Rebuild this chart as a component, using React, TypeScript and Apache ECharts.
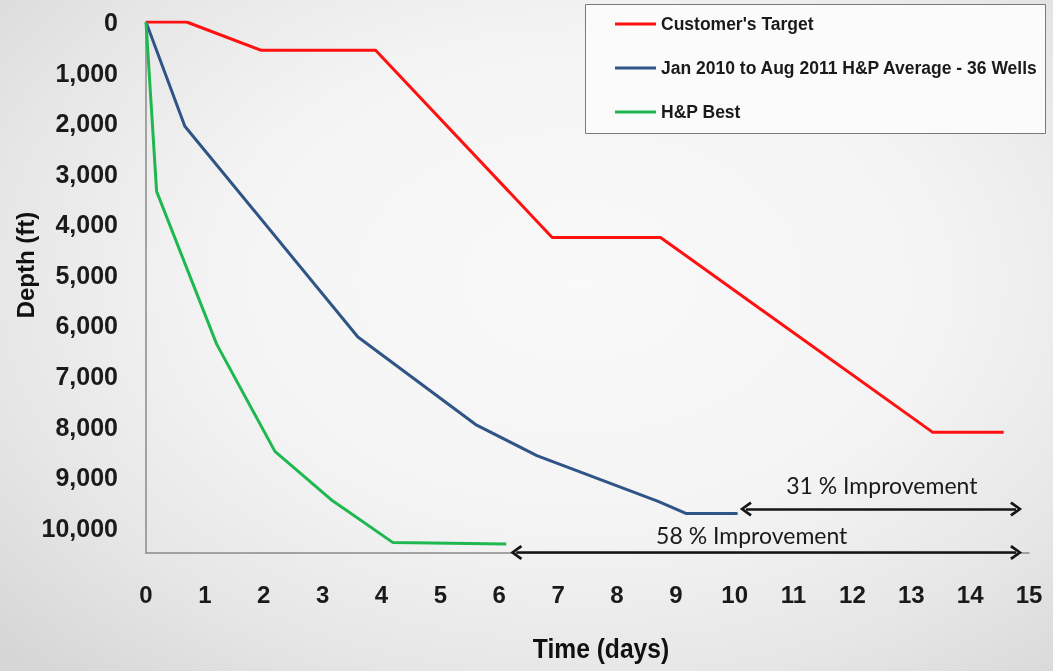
import React, { useEffect, useRef } from "react";
import * as echarts from "echarts";

// ---- data (days, depth in ft) ----
const seriesNames = [
  "Customer's Target",
  "Jan 2010 to Aug 2011 H&P Average - 36 Wells",
  "H&P Best",
];
const seriesColors = ["#ff1111", "#2f5486", "#1fb850"];

const targetDays = [0, 0.69, 1.96, 3.9, 6.9, 8.74, 13.36, 14.57];
const targetDepth = [0, 0, 560, 560, 4260, 4260, 8110, 8110];

const averageDays = [0, 0.66, 3.6, 5.6, 6.64, 8.7, 9.18, 10.05];
const averageDepth = [0, 2060, 6230, 7960, 8575, 9480, 9720, 9720];

const bestDays = [0, 0.18, 1.2, 2.19, 3.15, 4.19, 6.12];
const bestDepth = [0, 3350, 6370, 8490, 9450, 10290, 10320];

// ---- annotations ----
const improvementLabels = ["31 % Improvement", "58 % Improvement"];
const arrowStartDays = [10.19, 6.29];
const arrowEndDays = [14.78, 14.78];
const arrowDepths = [9630, 10490];
const labelDays = [12.5, 10.29];
const labelDepths = [9155, 10144];

const xMin = 0;
const xMax = 15;
const xInterval = 1;
const yMin = 0;
const yMax = 10500;
const yInterval = 1000;

const xAxisTitle = "Time (days)";
const yAxisTitle = "Depth (ft)";

const pairs = (xs: number[], ys: number[]) => xs.map((x, i) => [x, ys[i]]);

const chevron = "path://M0,12 L10,0 L20,12 L17,14 L10,5 L3,14 Z";

export default function App() {
  const ref = useRef<HTMLDivElement>(null);

  useEffect(() => {
    const chart = echarts.init(ref.current!, null, { renderer: "svg" });
    const lineSeries = (name: string, color: string, data: number[][]) => ({
      name,
      type: "line",
      data,
      showSymbol: false,
      symbol: "none",
      color,
      lineStyle: { color, width: 3 },
      z: 3,
    });

    const s0 = lineSeries(seriesNames[0], seriesColors[0], pairs(targetDays, targetDepth));
    const s1: any = lineSeries(seriesNames[1], seriesColors[1], pairs(averageDays, averageDepth));
    const s2 = lineSeries(seriesNames[2], seriesColors[2], pairs(bestDays, bestDepth));

    s1.markLine = {
      silent: true,
      symbol: [chevron, chevron],
      symbolSize: [15, 12],
      lineStyle: { color: "#151515", width: 2.5, type: "solid" },
      label: { show: false },
      emphasis: { disabled: true },
      data: arrowDepths.map((d, i) => [
        { coord: [arrowStartDays[i], d] },
        { coord: [arrowEndDays[i], d] },
      ]),
    };
    s1.markPoint = {
      silent: true,
      symbol: "circle",
      symbolSize: 0,
      itemStyle: { color: "transparent" },
      label: {
        show: true,
        position: "inside",
        color: "#1a1a1a",
        fontFamily: "Lato, 'Open Sans', sans-serif",
        fontSize: 23,
      },
      data: improvementLabels.map((t, i) => ({
        coord: [labelDays[i], labelDepths[i]],
        value: t,
        label: { formatter: t },
      })),
    };

    chart.setOption({
      animation: false,
      backgroundColor: "transparent",
      textStyle: { fontFamily: "'Liberation Sans', Arial, sans-serif" },
      graphic: [
        {
          type: "rect",
          shape: { x: 585.5, y: 4.5, width: 460, height: 129 },
          style: { fill: "#fbfbfb", stroke: "#7a7a7a", lineWidth: 1 },
          z: 0,
        },
        {
          type: "text",
          x: 25,
          y: 265,
          rotation: Math.PI / 2,
          style: {
            text: yAxisTitle,
            align: "center",
            verticalAlign: "middle",
            fill: "#111",
            font: "bold 24px 'Liberation Sans', Arial, sans-serif",
          },
        },
        {
          type: "text",
          x: 601,
          y: 648,
          scaleX: 0.88,
          style: {
            text: xAxisTitle,
            align: "center",
            verticalAlign: "middle",
            fill: "#111",
            font: "bold 28px 'Liberation Sans', Arial, sans-serif",
          },
        },
      ],
      legend: {
        orient: "vertical",
        left: 610,
        top: 10,
        itemWidth: 41,
        itemHeight: 3,
        itemGap: 26,
        icon: "rect",
        selectedMode: false,
        data: seriesNames,
        textStyle: {
          color: "#1a1a1a",
          fontWeight: "bold",
          fontSize: 17.5,
          lineHeight: 18,
          fontFamily: "'Liberation Sans', Arial, sans-serif",
        },
      },
      grid: { left: 146, right: 24, top: 22, bottom: 118, containLabel: false },
      xAxis: {
        type: "value",
        position: "bottom",
        min: xMin,
        max: xMax,
        interval: xInterval,
        axisLine: { show: true, onZero: false, lineStyle: { color: "#8a8a8a", width: 1.5 } },
        axisTick: { show: false },
        splitLine: { show: false },
        axisLabel: {
          color: "#1a1a1a",
          fontWeight: "bold",
          fontSize: 24,
          margin: 29,
          fontFamily: "'Liberation Sans', Arial, sans-serif",
        },
      },
      yAxis: {
        type: "value",
        inverse: true,
        min: yMin,
        max: yMax,
        interval: yInterval,
        axisLine: { show: true, onZero: false, lineStyle: { color: "#8a8a8a", width: 1.5 } },
        axisTick: { show: false },
        splitLine: { show: false },
        axisLabel: {
          color: "#1a1a1a",
          fontWeight: "bold",
          fontSize: 25,
          margin: 28,
          showMaxLabel: false,
          fontFamily: "'Liberation Sans', Arial, sans-serif",
          formatter: (v: number) => (v % 1000 === 0 ? v.toLocaleString("en-US") : ""),
        },
      },
      series: [s0, s1, s2],
    });
    return () => chart.dispose();
  }, []);

  return (
    <div
      ref={ref}
      style={{
        position: "fixed",
        left: 0,
        top: 0,
        width: 1053,
        height: 671,
        background:
          "radial-gradient(ellipse 75% 80% at 55% 42%, #f9f9f9 0%, #f4f4f4 45%, #e6e6e6 75%, #d6d6d6 100%)",
      }}
    />
  );
}
